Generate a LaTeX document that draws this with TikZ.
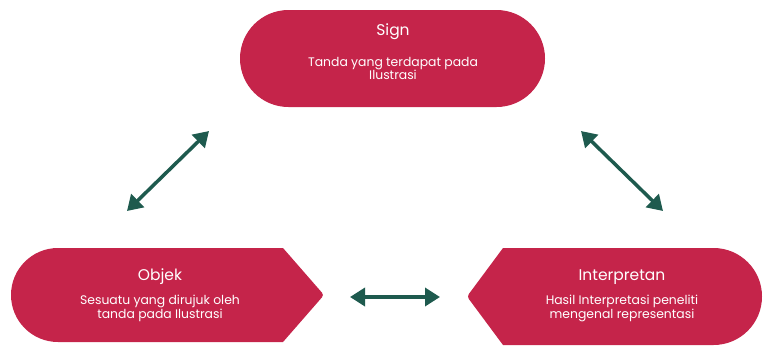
\documentclass[tikz,border=0pt]{standalone}
\usepackage{fontspec}
\setmainfont{Poppins}
\usetikzlibrary{arrows.meta}
\definecolor{pillred}{RGB}{197,36,74}
\definecolor{arrowteal}{RGB}{30,90,78}
\tikzset{
  pill/.style={fill=pillred},
  ttl/.style={text=white,font=\fontsize{15.5}{17}\selectfont,inner sep=0pt},
  body/.style={text=white,font=\fontsize{12.4}{13.5}\selectfont,align=center,inner sep=0pt},
  link/.style={draw=arrowteal,line width=3.5pt,{Triangle[length=15pt,width=18pt]}-{Triangle[length=15pt,width=18pt]}}
}
\begin{document}
\begin{tikzpicture}[x=1pt,y=-1pt]
\useasboundingbox (0,0) rectangle (765,349);
% shapes
\fill[pill,rounded corners=48.5pt] (240,10) rectangle (545,107);
\fill[pill] (283,248) [rounded corners=3pt] -- (324,295) [sharp corners] -- (283,342) [rounded corners=47pt] -- (11,342) -- (11,248) [sharp corners] -- cycle;
\fill[pill] (503,248) [rounded corners=48.5pt] -- (762,248) -- (762,345) [sharp corners] -- (503,345) [rounded corners=3pt] -- (467,296.5) [sharp corners] -- cycle;
% texts
\node[ttl] (signT) at (393,32) {Sign};
\node[body] (signB) at (393,68.5) {Tanda yang terdapat pada\\Ilustrasi};
\node[ttl] (objT) at (160,277) {Objek};
\node[body] (objB) at (160,308.5) {Sesuatu yang dirujuk oleh\\tanda pada Ilustrasi};
\node[ttl] (intT) at (622,277) {Interpretan};
\node[body] (intB) at (622,308.5) {Hasil Interpretasi peneliti\\mengenal representasi};
% connector ends
\coordinate (a1) at (127,211);
\coordinate (a2) at (209,131);
\coordinate (b1) at (581,131);
\coordinate (b2) at (663,211);
\coordinate (c1) at (350,297);
\coordinate (c2) at (440,297);
\draw[link] (a1) -- (a2);
\draw[link] (b1) -- (b2);
\draw[link] (c1) -- (c2);
\end{tikzpicture}
\end{document}
